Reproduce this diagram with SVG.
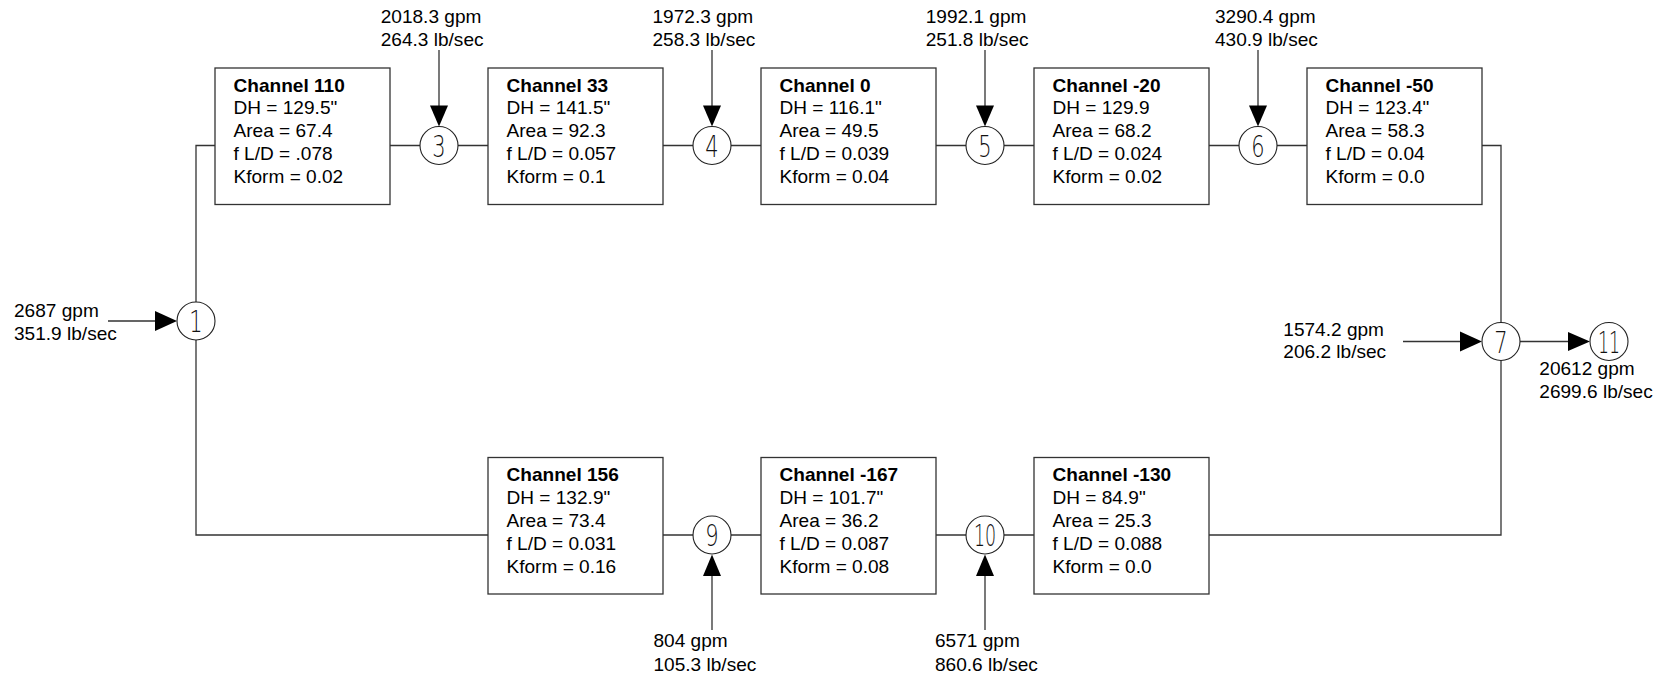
<svg xmlns="http://www.w3.org/2000/svg" width="1665" height="676" viewBox="0 0 1665 676">
<style>
.bg{fill:#fff}
.box{fill:#fff;stroke:#333;stroke-width:1.3}
.ln{fill:none;stroke:#333;stroke-width:1.3}
.nd{fill:#fff;stroke:#222;stroke-width:1.1}
.ah{fill:#000}
.t{font-family:"Liberation Sans",Arial,sans-serif;font-size:17.5px;fill:#000}
.b{font-weight:bold}
.n{font-family:"DejaVu Sans",Lato,sans-serif;font-weight:200;font-size:30px;fill:#111;text-anchor:middle}
</style>
<rect class="bg" x="0" y="0" width="1665" height="676"/>
<g id="connectors">
<path class="ln" d="M215 145.5 H196 V535 H488"/>
<path class="ln" d="M1482 145.5 H1501 V535 H1209"/>
<path class="ln" d="M390 145.5 H488 M663 145.5 H761 M936 145.5 H1034 M1209 145.5 H1307"/>
<path class="ln" d="M663 535 H761 M936 535 H1034"/>
<path class="ln" d="M439 50 V108 M712 50 V108 M985 50 V108 M1258 50 V108"/>
<path class="ln" d="M108 321 H157 M1403 341.5 H1462 M1520 341.5 H1570"/>
<path class="ln" d="M712 630 V574 M985 630 V574"/>
<polygon class="ah" points="430,105.5 448,105.5 439,126.5"/>
<polygon class="ah" points="703,105.5 721,105.5 712,126.5"/>
<polygon class="ah" points="976,105.5 994,105.5 985,126.5"/>
<polygon class="ah" points="1249,105.5 1267,105.5 1258,126.5"/>
<polygon class="ah" points="155,311 155,331 177,321"/>
<polygon class="ah" points="1460,331.5 1460,351.5 1482,341.5"/>
<polygon class="ah" points="1568,332 1568,351 1590,341.5"/>
<polygon class="ah" points="703,576 721,576 712,554.5"/>
<polygon class="ah" points="976,576 994,576 985,554.5"/>
</g>
<g id="flows">
<text class="t" transform="translate(380.7 23.3) scale(1.09 1)"><tspan x="0" y="0">2018.3 gpm</tspan><tspan x="0" y="22.5">264.3 lb/sec</tspan></text>
<text class="t" transform="translate(652.5 23.3) scale(1.09 1)"><tspan x="0" y="0">1972.3 gpm</tspan><tspan x="0" y="22.5">258.3 lb/sec</tspan></text>
<text class="t" transform="translate(925.7 23.3) scale(1.09 1)"><tspan x="0" y="0">1992.1 gpm</tspan><tspan x="0" y="22.5">251.8 lb/sec</tspan></text>
<text class="t" transform="translate(1215 23.3) scale(1.09 1)"><tspan x="0" y="0">3290.4 gpm</tspan><tspan x="0" y="22.5">430.9 lb/sec</tspan></text>
<text class="t" transform="translate(14 316.7) scale(1.09 1)"><tspan x="0" y="0">2687 gpm</tspan><tspan x="0" y="23.3">351.9 lb/sec</tspan></text>
<text class="t" transform="translate(1283.3 336) scale(1.09 1)"><tspan x="0" y="0">1574.2 gpm</tspan><tspan x="0" y="22.3">206.2 lb/sec</tspan></text>
<text class="t" transform="translate(1539.3 375) scale(1.09 1)"><tspan x="0" y="0">20612 gpm</tspan><tspan x="0" y="22.7">2699.6 lb/sec</tspan></text>
<text class="t" transform="translate(653.5 647) scale(1.09 1)"><tspan x="0" y="0">804 gpm</tspan><tspan x="0" y="23.7">105.3 lb/sec</tspan></text>
<text class="t" transform="translate(935 647) scale(1.09 1)"><tspan x="0" y="0">6571 gpm</tspan><tspan x="0" y="23.7">860.6 lb/sec</tspan></text>
</g>
<g id="ch110">
<rect class="box" x="215" y="68" width="175" height="136.5"/>
<text class="t" transform="translate(233.5 91.5) scale(1.09 1)"><tspan class="b" x="0" y="0">Channel 110</tspan><tspan x="0" y="23">DH = 129.5"</tspan><tspan x="0" y="46">Area = 67.4</tspan><tspan x="0" y="69">f L/D = .078</tspan><tspan x="0" y="92">Kform = 0.02</tspan></text>
</g>
<g id="ch33">
<rect class="box" x="488" y="68" width="175" height="136.5"/>
<text class="t" transform="translate(506.5 91.5) scale(1.09 1)"><tspan class="b" x="0" y="0">Channel 33</tspan><tspan x="0" y="23">DH = 141.5"</tspan><tspan x="0" y="46">Area = 92.3</tspan><tspan x="0" y="69">f L/D = 0.057</tspan><tspan x="0" y="92">Kform = 0.1</tspan></text>
</g>
<g id="ch0">
<rect class="box" x="761" y="68" width="175" height="136.5"/>
<text class="t" transform="translate(779.5 91.5) scale(1.09 1)"><tspan class="b" x="0" y="0">Channel 0</tspan><tspan x="0" y="23">DH = 116.1"</tspan><tspan x="0" y="46">Area = 49.5</tspan><tspan x="0" y="69">f L/D = 0.039</tspan><tspan x="0" y="92">Kform = 0.04</tspan></text>
</g>
<g id="chm20">
<rect class="box" x="1034" y="68" width="175" height="136.5"/>
<text class="t" transform="translate(1052.5 91.5) scale(1.09 1)"><tspan class="b" x="0" y="0">Channel -20</tspan><tspan x="0" y="23">DH = 129.9</tspan><tspan x="0" y="46">Area = 68.2</tspan><tspan x="0" y="69">f L/D = 0.024</tspan><tspan x="0" y="92">Kform = 0.02</tspan></text>
</g>
<g id="chm50">
<rect class="box" x="1307" y="68" width="175" height="136.5"/>
<text class="t" transform="translate(1325.5 91.5) scale(1.09 1)"><tspan class="b" x="0" y="0">Channel -50</tspan><tspan x="0" y="23">DH = 123.4"</tspan><tspan x="0" y="46">Area = 58.3</tspan><tspan x="0" y="69">f L/D = 0.04</tspan><tspan x="0" y="92">Kform = 0.0</tspan></text>
</g>
<g id="ch156">
<rect class="box" x="488" y="457.5" width="175" height="136.5"/>
<text class="t" transform="translate(506.5 481) scale(1.09 1)"><tspan class="b" x="0" y="0">Channel 156</tspan><tspan x="0" y="23">DH = 132.9"</tspan><tspan x="0" y="46">Area = 73.4</tspan><tspan x="0" y="69">f L/D = 0.031</tspan><tspan x="0" y="92">Kform = 0.16</tspan></text>
</g>
<g id="chm167">
<rect class="box" x="761" y="457.5" width="175" height="136.5"/>
<text class="t" transform="translate(779.5 481) scale(1.09 1)"><tspan class="b" x="0" y="0">Channel -167</tspan><tspan x="0" y="23">DH = 101.7"</tspan><tspan x="0" y="46">Area = 36.2</tspan><tspan x="0" y="69">f L/D = 0.087</tspan><tspan x="0" y="92">Kform = 0.08</tspan></text>
</g>
<g id="chm130">
<rect class="box" x="1034" y="457.5" width="175" height="136.5"/>
<text class="t" transform="translate(1052.5 481) scale(1.09 1)"><tspan class="b" x="0" y="0">Channel -130</tspan><tspan x="0" y="23">DH = 84.9"</tspan><tspan x="0" y="46">Area = 25.3</tspan><tspan x="0" y="69">f L/D = 0.088</tspan><tspan x="0" y="92">Kform = 0.0</tspan></text>
</g>
<g id="n1"><circle class="nd" cx="196" cy="321" r="19"/><text class="n" transform="translate(196 332) scale(0.7 1)">1</text></g>
<g id="n3"><circle class="nd" cx="439" cy="145.5" r="19"/><text class="n" transform="translate(439 156.5) scale(0.7 1)">3</text></g>
<g id="n4"><circle class="nd" cx="712" cy="145.5" r="19"/><text class="n" transform="translate(712 156.5) scale(0.7 1)">4</text></g>
<g id="n5"><circle class="nd" cx="985" cy="145.5" r="19"/><text class="n" transform="translate(985 156.5) scale(0.7 1)">5</text></g>
<g id="n6"><circle class="nd" cx="1258" cy="145.5" r="19"/><text class="n" transform="translate(1258 156.5) scale(0.7 1)">6</text></g>
<g id="n7"><circle class="nd" cx="1501" cy="341.5" r="19"/><text class="n" transform="translate(1501 352.5) scale(0.7 1)">7</text></g>
<g id="n11"><circle class="nd" cx="1609" cy="341.5" r="19"/><text class="n" transform="translate(1609 352.5) scale(0.58 1)">11</text></g>
<g id="n9"><circle class="nd" cx="712" cy="535" r="19"/><text class="n" transform="translate(712 546) scale(0.7 1)">9</text></g>
<g id="n10"><circle class="nd" cx="985" cy="535" r="19"/><text class="n" transform="translate(985 546) scale(0.58 1)">10</text></g>
</svg>
